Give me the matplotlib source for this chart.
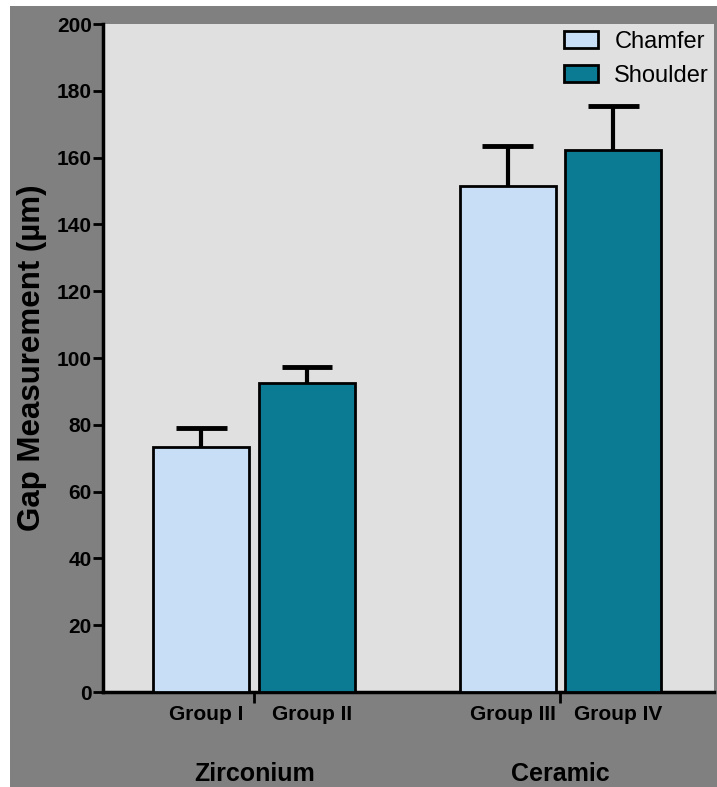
import matplotlib.pyplot as plt
from matplotlib.patches import Rectangle, Patch

# values
groups = ['Group I', 'Group II', 'Group III', 'Group IV']
materials = ['Zirconium', 'Ceramic']
finish = ['Chamfer', 'Shoulder', 'Chamfer', 'Shoulder']
means = [73.5, 92.5, 151.5, 162.3]
sd = [5.5, 4.8, 12.0, 13.0]

colors = {'Chamfer': '#c8ddf6', 'Shoulder': '#0a7b93'}
plt.rcParams['font.family'] = ['Liberation Sans', 'DejaVu Sans']

fig = plt.figure(figsize=(7.17, 7.87), dpi=100, facecolor='white')
# gray panel behind everything, white strip at top/left like the scan
fig.patches.append(Rectangle((10 / 717, 0), 1, 1 - 6 / 787, transform=fig.transFigure,
                             facecolor='#808080', edgecolor='none', zorder=-10))

ax = fig.add_axes([103 / 717, 1 - 692 / 787, 611 / 717, 668 / 787])
ax.set_facecolor('#e0e0e0')

x = [0, 1.1, 3.19, 4.29]
ax.bar(x, means, width=1.0, color=[colors[f] for f in finish],
       edgecolor='black', linewidth=2, zorder=3)
# upper half error bars only
tops = [m + s for m, s in zip(means, sd)]
ax.vlines(x, means, tops, color='black', linewidth=3, zorder=2)
ax.hlines(tops, [xi - 0.265 for xi in x], [xi + 0.265 for xi in x],
          color='black', linewidth=3.5, zorder=2)

ax.set_xlim(-1.026, 5.34)
ax.set_ylim(0, 200)
ax.set_yticks(range(0, 201, 20))
ax.tick_params(axis='y', labelsize=15, width=2, length=7, pad=1)
for lab in ax.get_yticklabels():
    lab.set_fontweight('bold')

# ticks between the paired bars, labels drawn as text
ax.set_xticks([0.55, 3.74])
ax.set_xticklabels([])
ax.tick_params(axis='x', width=2, length=8)

for xi, g in zip(x, groups):
    ax.text(xi + 0.05, -6.8, g, ha='center', va='center', fontsize=15,
            fontweight='bold', clip_on=False)
for xc, m in zip([0.55, 3.74], materials):
    ax.text(xc, -24.5, m, ha='center', va='center', fontsize=18,
            fontweight='bold', clip_on=False)

for side in ['top', 'right']:
    ax.spines[side].set_visible(False)
ax.spines['left'].set_linewidth(2.5)
ax.spines['bottom'].set_linewidth(2.5)

ax.set_ylabel('Gap Measurement (µm)', fontsize=22.5, fontweight='bold', labelpad=7)

handles = [Patch(facecolor=colors['Chamfer'], edgecolor='black', linewidth=2, label='Chamfer'),
           Patch(facecolor=colors['Shoulder'], edgecolor='black', linewidth=2, label='Shoulder')]
ax.legend(handles=handles, loc='upper right', bbox_to_anchor=(0.992, 0.99), frameon=False,
          fontsize=17, handlelength=1.44, handleheight=0.72, labelspacing=0.52,
          handletextpad=0.68, borderaxespad=0, borderpad=0)

fig.savefig('out.png', dpi=100, facecolor=fig.get_facecolor())
